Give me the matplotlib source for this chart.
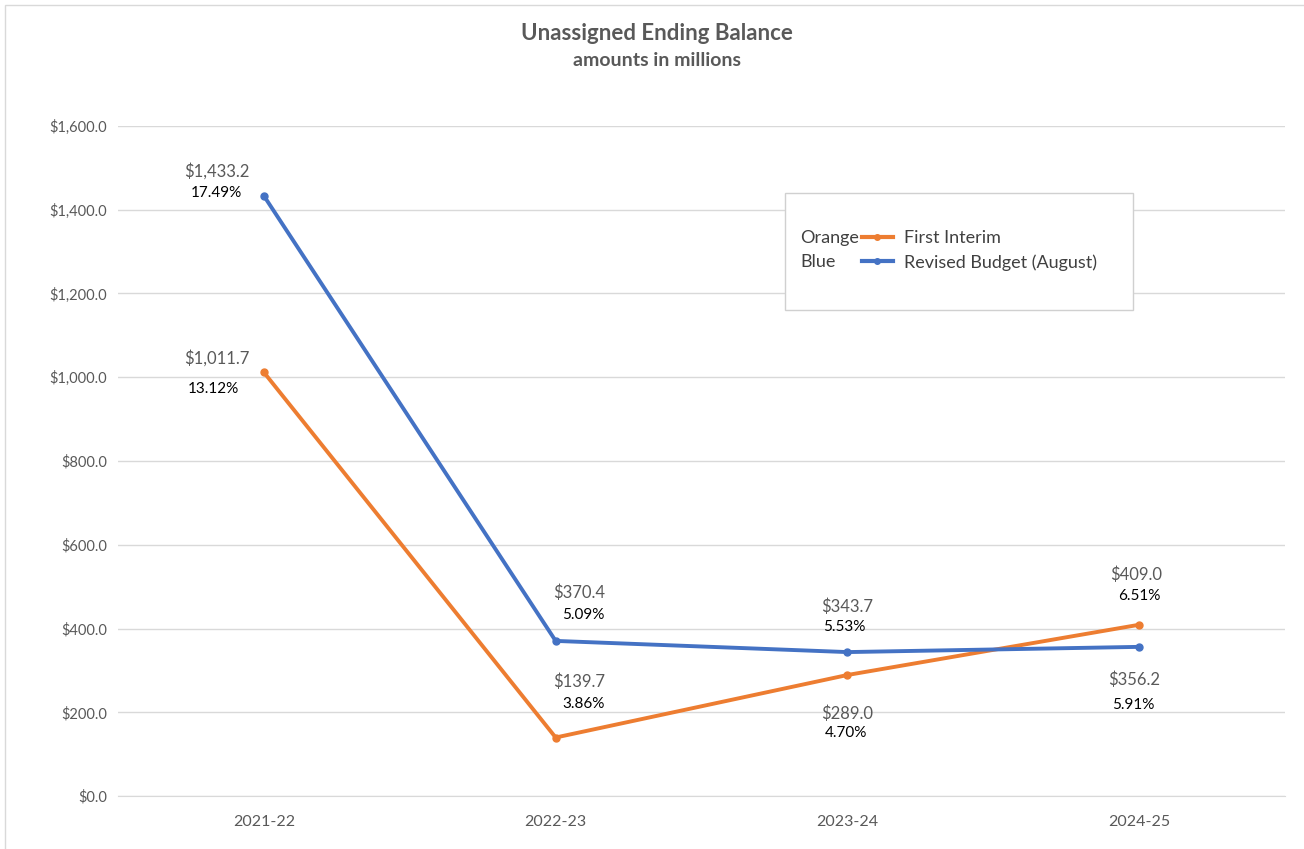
import matplotlib
matplotlib.use('Agg')
import matplotlib.pyplot as plt
from matplotlib.patches import Rectangle
from matplotlib.lines import Line2D

# data
years = ['2021-22', '2022-23', '2023-24', '2024-25']
first_interim = [1011.7, 139.7, 289.0, 409.0]
first_interim_pct = ['13.12%', '3.86%', '4.70%', '6.51%']
revised_budget = [1433.2, 370.4, 343.7, 356.2]
revised_budget_pct = ['17.49%', '5.09%', '5.53%', '5.91%']
yticks = [0, 200, 400, 600, 800, 1000, 1200, 1400, 1600]

ORANGE = '#ED7D31'
BLUE = '#4472C4'
GRAY = '#595959'

plt.rcParams['font.family'] = ['Lato', 'DejaVu Sans']

fig = plt.figure(figsize=(13.04, 8.49), dpi=100)
ax = fig.add_axes([0.0905, 0.0624, 0.895, 0.7892])

x = list(range(len(years)))
ax.plot(x, first_interim, color=ORANGE, lw=2.8, marker='o', ms=5, zorder=3)
ax.plot(x, revised_budget, color=BLUE, lw=2.8, marker='o', ms=5, zorder=3)

ax.set_xlim(-0.5, 3.5)
ax.set_ylim(0, 1600)
ax.set_yticks(yticks)
ax.set_yticklabels(['${:,.1f}'.format(v) for v in yticks])
ax.set_xticks(x)
ax.set_xticklabels(years)
ax.tick_params(length=0, colors=GRAY, labelsize=10.5, pad=8)
ax.tick_params(axis='x', pad=14, labelsize=11.5)
ax.grid(axis='y', color='#D9D9D9', lw=1)
ax.set_axisbelow(True)
for s in ['top', 'right', 'left']:
    ax.spines[s].set_visible(False)
ax.spines['bottom'].set_color('#D9D9D9')

# data labels: (dollar offset, pct offset) in points
blue_off = [((-34, 18), (-34, 2)), ((17, 35), (20, 19)), ((0, 33), (-2, 18)), ((-4, -24), (-4, -42))]
orange_off = [((-34, 10), (-36, -12)), ((17, 40), (20, 24)), ((0, -28), (-1, -42)), ((-2, 36), (0, 21))]

for i in x:
    for vals, pcts, offs in [(revised_budget, revised_budget_pct, blue_off),
                             (first_interim, first_interim_pct, orange_off)]:
        (dx1, dy1), (dx2, dy2) = offs[i]
        ax.annotate('${:,.1f}'.format(vals[i]), (i, vals[i]), xytext=(dx1, dy1),
                    textcoords='offset points', ha='center', va='center',
                    fontsize=12, color=GRAY)
        ax.annotate(pcts[i], (i, vals[i]), xytext=(dx2, dy2),
                    textcoords='offset points', ha='center', va='center',
                    fontsize=11, color='black')

# title
fig.text(0.504, 0.961, 'Unassigned Ending Balance', ha='center', va='center',
         fontsize=16, fontweight='bold', color=GRAY)
fig.text(0.504, 0.929, 'amounts in millions', ha='center', va='center',
         fontsize=14, fontweight='bold', color=GRAY)

# legend box
W, H = 1304, 849
fig.patches.append(Rectangle((785 / W, 1 - 310 / H), 348 / W, 117 / H,
                             transform=fig.transFigure, fill=True, fc='white',
                             ec='#D0D0D0', lw=1, zorder=5))
handles = [Line2D([], [], color=ORANGE, lw=3, marker='o', ms=4),
           Line2D([], [], color=BLUE, lw=3, marker='o', ms=4)]
leg = fig.legend(handles, ['First Interim', 'Revised Budget (August)'],
                 loc='upper left', bbox_to_anchor=(862 / W, 1 - 230 / H),
                 frameon=False, fontsize=13, handlelength=1.7, handletextpad=0.6,
                 labelspacing=0.45, borderaxespad=0, borderpad=0)
for t in leg.get_texts():
    t.set_color('#404040')
leg.set_zorder(6)
fig.text(800 / W, 1 - 238 / H, 'Orange', fontsize=13, color='#404040', va='center', zorder=6)
fig.text(800 / W, 1 - 262 / H, 'Blue', fontsize=13, color='#404040', va='center', zorder=6)

# chart border
fig.patches.append(Rectangle((0.004, -0.01), 1.0, 1.004, transform=fig.transFigure,
                             fill=False, ec='#D9D9D9', lw=1))

fig.savefig('out.png', dpi=100)
